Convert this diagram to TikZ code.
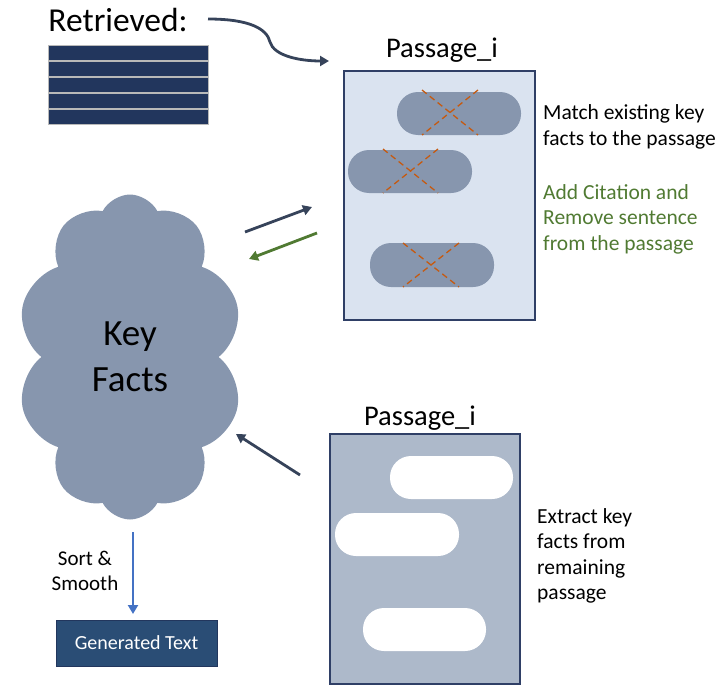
\documentclass[tikz,border=0pt]{standalone}
\usepackage{fontspec}
\setmainfont{Carlito}
\usetikzlibrary{arrows.meta,shapes.symbols}
\definecolor{navy}{HTML}{22365D}
\definecolor{boxline}{HTML}{2F3F66}
\definecolor{paleblue}{HTML}{DAE3F0}
\definecolor{greyblue}{HTML}{ADB9CA}
\definecolor{factgrey}{HTML}{8796AE}
\definecolor{slate}{HTML}{36435A}
\definecolor{citegreen}{HTML}{507A32}
\definecolor{crossorange}{HTML}{C55A11}
\definecolor{sortblue}{HTML}{4472C4}
\definecolor{gentext}{HTML}{2A4D75}
\tikzset{
	pill/.style={rounded corners=21pt},
	crossline/.style={crossorange, line width=1.3pt, dash pattern=on 6pt off 4pt},
	flow/.style={line width=2.8pt, -{Triangle[length=9pt,width=10pt]}},
	note/.style={anchor=west, align=left, inner sep=0pt, font=\fontsize{21.5}{25.5}\selectfont},
	title/.style={inner sep=0pt, font=\fontsize{28.5}{32}\selectfont}
}

\begin{document}
\begin{tikzpicture}[x=1pt, y=-1pt]
			%%%%% START %%%%%
			\useasboundingbox (0,0) rectangle (719,685);
			
			% retrieved stack
			\node[inner sep=0pt, font=\fontsize{33.5}{36}\selectfont] (retr) at (118,20) {Retrieved:};
			\foreach \k in {0,...,4}
				\draw[fill=navy, draw=gray!55, line width=0.8pt] (48,45+16*\k) rectangle (208,45+16*\k+15);
			
			% first passage
			\node[title] (ptop) at (442,50) {Passage\_i};
			\draw[fill=paleblue, draw=boxline, line width=1.6pt] (344,71) rectangle (535,320);
			\fill[pill, factgrey] (397,92) rectangle (521,135);
			\fill[pill, factgrey] (348,150) rectangle (472,193);
			\fill[pill, factgrey] (370,243) rectangle (494,287);
			\draw[crossline] (422,90) -- (478,135);
			\draw[crossline] (478,90) -- (422,135);
			\draw[crossline] (383,149) -- (438,193);
			\draw[crossline] (438,149) -- (383,193);
			\draw[crossline] (403,243) -- (459,287);
			\draw[crossline] (459,243) -- (403,287);
			\node[note] (match) at (543,127) {Match existing key\\facts to the passage};
			\node[note, text=citegreen] (cite) at (543,219) {Add Citation and\\Remove sentence\\from the passage};
			
			\coordinate (ptopin) at (329,61);
			\draw[slate, flow] (208,19) .. controls (250,19) and (267,29) .. (270,42) .. controls (274,56) and (300,61) .. (ptopin);
			
			% key facts cloud
			\node[cloud, cloud puffs=10, cloud puff arc=125, cloud ignores aspect, minimum width=226pt, minimum height=325pt, fill=factgrey, inner sep=0pt, align=center, font=\fontsize{37}{46}\selectfont] (facts) at (130,357) {Key\\Facts};
			
			\coordinate (toA) at (245,232);
			\coordinate (toB) at (312,207);
			\coordinate (backA) at (317,233);
			\coordinate (backB) at (249,259);
			\draw[slate, flow] (toA) -- (toB);
			\draw[citegreen, flow] (backA) -- (backB);
			
			% second passage
			\node[title] (pbot) at (420,418) {Passage\_i};
			\draw[fill=greyblue, draw=boxline, line width=1.6pt] (330,434) rectangle (520,684);
			\fill[pill, white] (390,456) rectangle (513,499);
			\fill[pill, white] (335,513) rectangle (459,556);
			\fill[pill, white] (363,608) rectangle (486,651);
			\node[note] (extract) at (537,556) {Extract key\\facts from\\remaining\\passage};
			
			\coordinate (upA) at (300,475);
			\coordinate (upB) at (236,434);
			\draw[slate, flow] (upA) -- (upB);
			
			% output
			\node[draw=navy, fill=gentext, text=white, line width=1pt, minimum width=161pt, minimum height=46pt, inner sep=0pt, font=\fontsize{20}{24}\selectfont] (gen) at (136.5,643) {Generated Text};
			\draw[sortblue, flow, shorten <=14pt, shorten >=6pt] (133,518) -- (133,620);
			\node[inner sep=0pt, align=center, font=\fontsize{21}{25}\selectfont] (sort) at (85,571) {Sort \&\\Smooth};
			%%%%% END %%%%%
		\end{tikzpicture}
\end{document}
